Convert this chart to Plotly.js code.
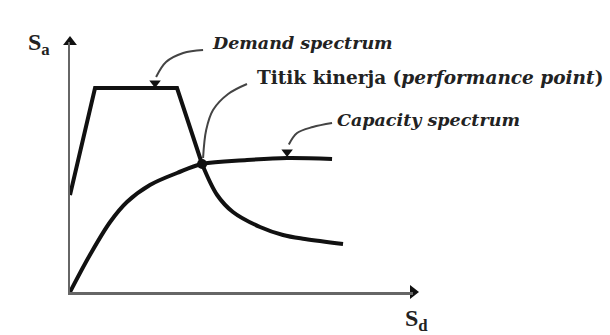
<!DOCTYPE html>
<html>
<head>
<meta charset="utf-8">
<script src="https://cdn.plot.ly/plotly-3.0.1.min.js"></script>
<style>html,body{margin:0;padding:0;background:#fff;}#chart{width:610px;height:335px;}</style>
</head>
<body>
<div id="chart"></div>
<script>
// Demand spectrum: linear part (rise + plateau + steep drop) and curved tail
var demandLinSd = [0, 0.73, 3.12, 3.85];
var demandLinSa = [3.88, 8.16, 8.16, 5.12];
var demandTailSd = [3.85, 4.29, 4.75, 5.54, 6.21, 6.85, 7.96];
var demandTailSa = [5.12, 3.88, 3.20, 2.60, 2.28, 2.12, 1.92];
// Capacity spectrum
var capacitySd = [0, 0.58, 1.17, 1.66, 2.33, 3.12, 3.85, 5.16, 6.33, 7.64];
var capacitySa = [0, 1.48, 2.80, 3.60, 4.28, 4.76, 5.12, 5.28, 5.36, 5.32];
// Performance point
var perfSd = [3.85];
var perfSa = [5.12];
// Leader curves for labels
var leadDemandSd = [3.88, 3.30, 2.80, 2.51];
var leadDemandSa = [9.68, 9.56, 9.20, 8.60];
var leadPerfSd = [5.16, 4.61, 4.17, 3.97, 3.88];
var leadPerfSa = [8.32, 7.92, 7.28, 6.48, 5.36];
var leadCapSd = [7.64, 7.08, 6.62, 6.38];
var leadCapSa = [6.76, 6.60, 6.36, 5.90];
var headSd = [2.48, 6.33];
var headSa = [8.36, 5.60];
// Labels
var labels = ["Demand spectrum", "Titik kinerja (<i>performance point</i>)", "Capacity spectrum"];
var labelSd = [4.08, 5.40, 7.73];
var labelSa = [9.96, 8.60, 6.88];

var serif = "DejaVu Serif, Liberation Serif, serif";
var ink = "#111";
var lead = "#444";

var traces = [
  {x: demandLinSd, y: demandLinSa, mode: "lines", line: {color: ink, width: 4}, hoverinfo: "skip"},
  {x: demandTailSd, y: demandTailSa, mode: "lines", line: {color: ink, width: 4, shape: "spline", smoothing: 1}, hoverinfo: "skip"},
  {x: capacitySd, y: capacitySa, mode: "lines", line: {color: ink, width: 4, shape: "spline", smoothing: 1}, hoverinfo: "skip"},
  {x: leadDemandSd, y: leadDemandSa, mode: "lines", line: {color: lead, width: 2, shape: "spline"}, hoverinfo: "skip"},
  {x: leadPerfSd, y: leadPerfSa, mode: "lines", line: {color: lead, width: 2, shape: "spline"}, hoverinfo: "skip"},
  {x: leadCapSd, y: leadCapSa, mode: "lines", line: {color: lead, width: 2, shape: "spline"}, hoverinfo: "skip"},
  {x: headSd, y: headSa, mode: "markers", marker: {symbol: "triangle-down", size: 10, color: ink}, hoverinfo: "skip"},
  {x: perfSd, y: perfSa, mode: "markers", marker: {symbol: "circle", size: 10, color: ink}, hoverinfo: "skip"},
  {x: [0, 10], y: [10, 0], mode: "markers", marker: {symbol: ["triangle-up", "triangle-right"], size: 12, color: ink}, cliponaxis: false, hoverinfo: "skip"}
];

var annotations = [];
for (var i = 0; i < labels.length; i++) {
  annotations.push({
    x: labelSd[i], y: labelSa[i], xref: "x", yref: "y", xanchor: "left", yanchor: "middle",
    text: i === 1 ? "<b>Titik kinerja (<i>performance point</i>)</b>" : "<b><i>" + labels[i] + "</i></b>",
    showarrow: false, font: {family: serif, size: i === 1 ? 18.5 : 17.5, color: "#222", weight: "bold"}
  });
}
annotations.push({x: 0, y: 1, xref: "paper", yref: "paper", xshift: -44, yshift: -2, xanchor: "left", yanchor: "middle",
  text: "<b>S<sub>a</sub></b>", showarrow: false, font: {family: "Liberation Serif, serif", size: 24, color: "#222"}});
annotations.push({x: 1, y: 0, xref: "paper", yref: "paper", xshift: -10, yshift: -28, xanchor: "left", yanchor: "middle",
  text: "<b>S<sub>d</sub></b>", showarrow: false, font: {family: "Liberation Serif, serif", size: 24, color: "#222"}});

var layout = {
  width: 610, height: 335,
  margin: {l: 70, r: 197, t: 42, b: 43},
  paper_bgcolor: "#fff", plot_bgcolor: "#fff",
  showlegend: false,
  xaxis: {range: [0, 10], showgrid: false, zeroline: false, showticklabels: false, ticks: "",
          showline: true, linecolor: "#666", linewidth: 2.5},
  yaxis: {range: [0, 10], showgrid: false, zeroline: false, showticklabels: false, ticks: "",
          showline: true, linecolor: "#666", linewidth: 2.5},
  annotations: annotations
};

Plotly.newPlot("chart", traces, layout, {displayModeBar: false, staticPlot: true});
</script>
</body>
</html>
